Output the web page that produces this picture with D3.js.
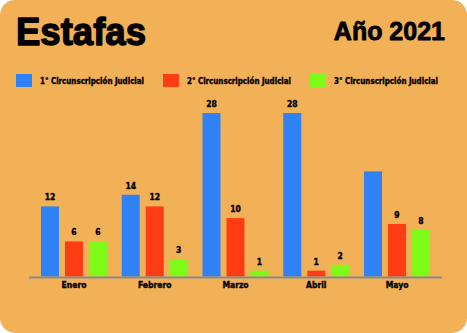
<!DOCTYPE html>
<html>
<head>
<meta charset="utf-8">
<script src="https://cdn.jsdelivr.net/npm/d3@7"></script>
<style>
  html, body { margin: 0; padding: 0; background: #ffffff; }
  svg { display: block; }
</style>
</head>
<body>
<svg id="chart" width="467" height="333"></svg>
<script>
// Monthly fraud cases per judicial district, 2021
const months = ["Enero", "Febrero", "Marzo", "Abril", "Mayo"];
const seriesNames = ["1° Circunscripción Judicial", "2° Circunscripción Judicial", "3° Circunscripción Judicial"];
const primera = [12, 14, 28, 28, 18];
const segunda = [6, 12, 10, 1, 9];
const tercera = [6, 3, 1, 2, 8];
const seriesColors = ["#2f82f6", "#ff3c14", "#7dfb17"];
// bars printed without a value label: [series index, month]
const unlabelled = [[0, "Mayo"]];

const W = 467, H = 333;
const svg = d3.select("#chart");
const narrow = "'Liberation Sans Narrow', 'DejaVu Sans Condensed', Arial, sans-serif";

// card background with rounded corners
svg.append("rect")
  .attr("x", 0).attr("y", 0).attr("width", W).attr("height", H)
  .attr("rx", 15).attr("ry", 15)
  .attr("fill", "#f2b057");

// headings
svg.append("text")
  .attr("x", 16).attr("y", 45)
  .attr("font-family", "'Liberation Sans', Arial, sans-serif")
  .attr("font-weight", "bold")
  .attr("font-size", 39)
  .attr("textLength", 130).attr("lengthAdjust", "spacingAndGlyphs")
  .attr("fill", "#000").attr("stroke", "#000").attr("stroke-width", 1.4)
  .attr("stroke-linejoin", "round")
  .text("Estafas");

svg.append("text")
  .attr("x", 445).attr("y", 40)
  .attr("text-anchor", "end")
  .attr("font-family", "'Liberation Sans', Arial, sans-serif")
  .attr("font-weight", "bold")
  .attr("font-size", 25)
  .attr("fill", "#000").attr("stroke", "#000").attr("stroke-width", 0.8)
  .attr("stroke-linejoin", "round")
  .text("Año 2021");

// legend
const legendX = [16, 163, 310];
const legendTextW = 104;
const legend = svg.append("g");
seriesNames.forEach((name, i) => {
  legend.append("rect")
    .attr("x", legendX[i]).attr("y", 74)
    .attr("width", 16).attr("height", 13)
    .attr("fill", seriesColors[i]);
  legend.append("text")
    .attr("x", legendX[i] + 24).attr("y", 84)
    .attr("font-family", narrow)
    .attr("font-weight", "bold")
    .attr("font-size", 8.5)
    .attr("textLength", legendTextW).attr("lengthAdjust", "spacingAndGlyphs")
    .attr("fill", "#000").attr("stroke", "#000").attr("stroke-width", 0.35)
    .text(name);
});

// scales
const baseY = 276.5;
const x0 = d3.scaleBand()
  .domain(months)
  .range([33.6, 437.4])
  .paddingInner(0.1827)
  .paddingOuter(0.0913);

const x1 = d3.scaleBand()
  .domain([0, 1, 2])
  .range([0, x0.bandwidth()])
  .paddingInner(0.25)
  .paddingOuter(0);

const y = d3.scaleLinear()
  .domain([0, 28])
  .range([baseY, 113]);

const allSeries = [primera, segunda, tercera];
const data = months.map((m, mi) => ({
  month: m,
  values: allSeries.map((s, si) => ({
    si, value: s[mi],
    labelled: !unlabelled.some(([us, um]) => us === si && um === m)
  }))
}));

const groups = svg.append("g").selectAll("g")
  .data(data).join("g")
  .attr("transform", d => `translate(${x0(d.month)},0)`);

groups.selectAll("rect")
  .data(d => d.values).join("rect")
  .attr("x", d => x1(d.si))
  .attr("y", d => y(d.value))
  .attr("width", x1.bandwidth())
  .attr("height", d => baseY - y(d.value))
  .attr("fill", d => seriesColors[d.si]);

groups.selectAll("text")
  .data(d => d.values.filter(v => v.labelled)).join("text")
  .attr("x", d => x1(d.si) + x1.bandwidth() / 2)
  .attr("y", d => y(d.value) - 6)
  .attr("text-anchor", "middle")
  .attr("font-family", narrow)
  .attr("font-weight", "bold")
  .attr("font-size", 8.5)
  .attr("fill", "#000").attr("stroke", "#000").attr("stroke-width", 0.35)
  .text(d => d.value);

// baseline
svg.append("line")
  .attr("x1", 29).attr("x2", 442)
  .attr("y1", baseY + 1).attr("y2", baseY + 1)
  .attr("stroke", "#8a8a8a")
  .attr("stroke-width", 2);

// month axis (tick labels only)
const xAxis = svg.append("g")
  .attr("transform", `translate(0,${baseY + 2})`)
  .call(d3.axisBottom(x0).tickSize(0).tickPadding(3));
xAxis.select(".domain").remove();
xAxis.selectAll("text")
  .attr("font-family", narrow)
  .attr("font-weight", "bold")
  .attr("font-size", 8.5)
  .attr("fill", "#000").attr("stroke", "#000").attr("stroke-width", 0.35);
</script>
</body>
</html>
